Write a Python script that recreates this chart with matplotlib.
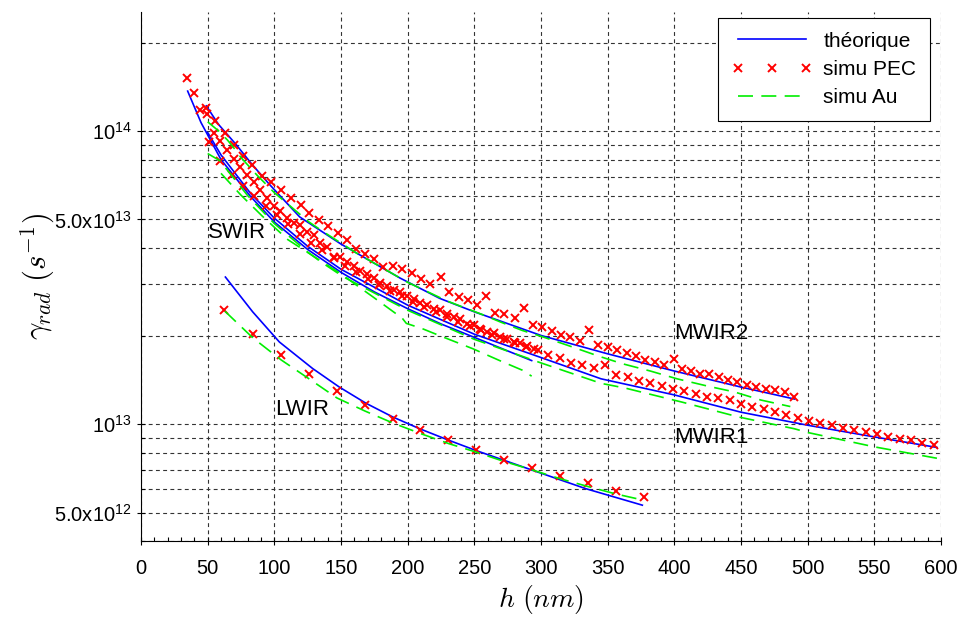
import matplotlib
matplotlib.use('Agg')
import matplotlib.pyplot as plt
import numpy as np
from matplotlib.ticker import FixedLocator, FixedFormatter, LogLocator, NullFormatter, MultipleLocator

# values are in units of 1e13 s^-1, h in nm
# ---- théorique ----
swir_th_h = [35, 45, 60, 82, 100, 125, 150, 175, 200, 225, 250, 275, 293]
swir_th = [13.7, 10.7, 8.0, 6.0, 4.9, 3.95, 3.3, 2.83, 2.48, 2.2, 1.98, 1.78, 1.65]
mwir1_th_h = [50, 60, 82, 100, 125, 150, 200, 250, 300, 345, 400, 450, 500, 550, 597]
mwir1_th = [9.9, 8.3, 6.15, 5.05, 4.05, 3.38, 2.55, 2.03, 1.69, 1.43, 1.26, 1.10, 0.993, 0.906, 0.834]
mwir2_th_h = [49, 58, 71, 83, 96, 119, 150, 194, 224, 250, 300, 350, 400, 450, 490]
mwir2_th = [12.2, 10.56, 9.04, 7.73, 6.61, 5.1, 4.12, 3.16, 2.69, 2.42, 2.01, 1.74, 1.52, 1.34, 1.22]
lwir_th_h = [63.3, 83.75, 103.75, 128.75, 148.75, 168.75, 188.75, 208.75, 231, 251, 293.75, 333.75, 376]
lwir_th = [3.18, 2.42, 1.91, 1.55, 1.34, 1.18, 1.06, 0.967, 0.882, 0.815, 0.697, 0.603, 0.530]

# ---- simu PEC ----
swir_pec_h = [34.5, 39.5, 44.5, 49.5, 54.5, 59.5, 64.5, 69.5, 74.5, 79.5, 84.5, 89.5, 94.5, 99.5,
              104.5, 109.5, 114.5, 119.5, 124.5, 129.5, 134.5, 139.5, 144.5, 149.5, 154.5, 159.5,
              164.5, 169.5, 174.5, 179.5, 184.5, 189.5, 194.5, 199.5, 204.5, 209.5, 214.5, 219.5,
              224.5, 229.5, 234.5, 239.5, 244.5, 249.5, 254.5, 259.5, 264.5, 269.5, 274.5, 279.5,
              284.5, 289.5, 294.5]
swir_pec = [15.2, 13.52, 11.78, 11.43, 9.89, 9.27, 8.61, 8.04, 7.57, 7.11, 6.70, 6.28, 5.92, 5.56,
            5.33, 5.07, 4.88, 4.78, 4.52, 4.42, 4.15, 4.03, 3.72, 3.72, 3.58, 3.47,
            3.33, 3.25, 3.16, 3.04, 2.96, 2.87, 2.83, 2.74, 2.67, 2.59, 2.55, 2.48,
            2.45, 2.37, 2.32, 2.28, 2.20, 2.18, 2.12, 2.07, 2.05, 1.99, 1.96, 1.91,
            1.89, 1.85, 1.81]
mwir1_pec_h = [51, 59.5, 68, 76.5, 85, 93.5, 102, 110.5, 119, 127.5, 136, 144.5, 153, 161.5,
               170, 178.5, 187, 195.5, 204, 212.5, 221, 229.5, 238, 246.5, 255, 263.5, 272,
               280.5, 289, 297.5, 305.5, 314, 322.5, 331, 339.5, 348, 356.5, 365, 373.5, 382,
               390.5, 399, 407.5, 416, 424.5, 433, 441.5, 450, 458.5, 467, 475.5, 484, 492.5,
               501, 509.5, 518, 526.5, 535, 543.5, 552, 560.5, 569, 577.5, 586, 594.5]
mwir1_pec = [9.18, 7.93, 7.08, 6.49, 6.00, 5.56, 5.19, 4.81, 4.47, 4.17, 3.92, 3.69, 3.48, 3.30,
             3.13, 2.99, 2.85, 2.73, 2.61, 2.51, 2.42, 2.32, 2.24, 2.16, 2.09, 2.02, 1.96,
             1.90, 1.84, 1.79, 1.73, 1.69, 1.62, 1.60, 1.56, 1.59, 1.47, 1.45, 1.41, 1.38,
             1.35, 1.32, 1.30, 1.27, 1.24, 1.23, 1.21, 1.17, 1.15, 1.13, 1.10, 1.08, 1.05,
             1.03, 1.01, 0.993, 0.975, 0.959, 0.942, 0.925, 0.906, 0.893, 0.881, 0.863, 0.847]
mwir2_pec_h = [48.7, 55.8, 62.8, 69.6, 76.4, 83.4, 90.5, 97.2, 104.8, 112.3, 120, 126.25, 133.25,
               140, 147.5, 154.25, 161.25, 168.25, 175, 181.25, 188.75, 195.75, 203.25, 210, 217,
               224.9, 231.2, 238.2, 245, 251.8, 258.8, 265.8, 272.6, 280.2, 286.9, 294, 301, 308,
               315, 322, 329.1, 336.2, 343, 350.5, 357.3, 364.3, 371.25, 378.25, 385.25, 392,
               399.5, 405.75, 412.5, 419.5, 426.25, 433.25, 440, 447, 454.5, 461.5, 468.75,
               475.75, 482.75, 489.5]
mwir2_pec = [12.02, 10.84, 9.89, 8.99, 8.24, 7.69, 7.05, 6.70, 6.28, 5.93, 5.58, 5.26, 4.99,
             4.74, 4.50, 4.25, 3.97, 3.80, 3.65, 3.44, 3.48, 3.40, 3.27, 3.14, 3.02,
             3.18, 2.83, 2.72, 2.65, 2.56, 2.74, 2.39, 2.37, 2.31, 2.50, 2.19, 2.14, 2.08,
             2.02, 1.99, 1.93, 2.09, 1.87, 1.84, 1.79, 1.75, 1.71, 1.66, 1.63, 1.60,
             1.67, 1.55, 1.52, 1.49, 1.48, 1.45, 1.42, 1.40, 1.36, 1.34, 1.32,
             1.31, 1.29, 1.24]
lwir_pec_h = [62.5, 83.75, 105, 125.75, 146.75, 167.75, 188.75, 209.5, 230.5, 251.25, 272.25,
              293.25, 314.25, 335.25, 356.25, 377]
lwir_pec = [2.46, 2.04, 1.72, 1.48, 1.30, 1.16, 1.045, 0.960, 0.882, 0.815, 0.758,
            0.710, 0.665, 0.631, 0.593, 0.564]

# ---- simu Au ----
swir_au_h = [60, 75, 91, 110, 134, 151, 160, 174, 196, 199, 211, 226, 249, 269, 286, 293]
swir_au = [7.18, 6.05, 5.13, 4.27, 3.63, 3.24, 3.02, 2.72, 2.30, 2.21, 2.12, 1.99, 1.81, 1.65, 1.53, 1.46]
mwir1_au_h = [50, 59, 80, 100, 125, 135, 152, 200, 250, 300, 345, 363, 406, 448, 490, 500, 550, 597]
mwir1_au = [8.39, 7.94, 6.03, 4.84, 3.87, 3.58, 3.18, 2.45, 1.95, 1.62, 1.38, 1.33, 1.19, 1.06,
            0.966, 0.938, 0.838, 0.766]
mwir2_au_h = [50, 59, 65, 71, 75, 87, 100, 126, 137, 162, 171, 200, 230, 259, 270, 286, 301, 320,
              343, 361, 382, 402, 425, 445, 465, 487]
mwir2_au = [10.76, 9.95, 9.31, 8.61, 8.13, 7.08, 6.17, 4.90, 4.53, 3.83, 3.63, 3.05, 2.63, 2.34,
            2.23, 2.09, 1.99, 1.86, 1.71, 1.61, 1.52, 1.43, 1.35, 1.29, 1.21, 1.15]
lwir_au_h = [63, 84, 105, 126, 147, 168, 189, 210, 231, 251, 272, 293, 314, 335, 356, 377]
lwir_au = [2.43, 1.97, 1.66, 1.43, 1.23, 1.11, 1.01, 0.929, 0.859, 0.805, 0.748, 0.700, 0.653,
           0.614, 0.579, 0.551]

band_labels = ['SWIR', 'LWIR', 'MWIR2', 'MWIR1']
band_label_pos = [(50.5, 4.52), (100.7, 1.12), (400, 2.04), (400, 0.90)]

plt.rcParams['font.family'] = ['Liberation Sans', 'DejaVu Sans']
plt.rcParams['mathtext.fontset'] = 'cm'

W, H = 957, 617
fig = plt.figure(figsize=(W / 100, H / 100), dpi=100)
ax = fig.add_axes([141 / W, 1 - 541 / H, 800 / W, 529 / H])

theory = [(swir_th_h, swir_th), (mwir1_th_h, mwir1_th), (mwir2_th_h, mwir2_th), (lwir_th_h, lwir_th)]
pec = [(swir_pec_h, swir_pec), (mwir1_pec_h, mwir1_pec), (mwir2_pec_h, mwir2_pec), (lwir_pec_h, lwir_pec)]
au = [(swir_au_h, swir_au), (mwir1_au_h, mwir1_au), (mwir2_au_h, mwir2_au), (lwir_au_h, lwir_au)]

for i, (h, g) in enumerate(theory):
    ax.plot(h, np.array(g) * 1e13, color='#0000ff', lw=1.2,
            label='théorique' if i == 0 else None, zorder=3)
for i, (h, g) in enumerate(pec):
    ax.plot(h, np.array(g) * 1e13, ls='none', marker='x', color='#ff0000', ms=6, mew=1.4,
            label='simu PEC' if i == 0 else None, zorder=4)
for i, (h, g) in enumerate(au):
    ax.plot(h, np.array(g) * 1e13, color='#00ee00', lw=1.2, ls=(0, (9, 5)),
            label='simu Au' if i == 0 else None, zorder=5)

for txt, (x, y) in zip(band_labels, band_label_pos):
    ax.text(x, y * 1e13, txt, fontsize=16, ha='left', va='center', zorder=6)

ax.set_yscale('log')
ax.set_xlim(0, 600)
ax.set_ylim(4e12, 2.55e14)

ax.xaxis.set_major_locator(MultipleLocator(50))
ax.xaxis.set_minor_locator(MultipleLocator(10))
ax.yaxis.set_major_locator(FixedLocator([5e12, 1e13, 5e13, 1e14]))
ax.yaxis.set_major_formatter(FixedFormatter([r'$\mathregular{5.0x10^{12}}$', r'$\mathregular{10^{13}}$',
                                             r'$\mathregular{5.0x10^{13}}$', r'$\mathregular{10^{14}}$']))
ax.yaxis.set_minor_locator(LogLocator(base=10, subs=np.arange(2, 10), numticks=50))
ax.yaxis.set_minor_formatter(NullFormatter())

gridkw = dict(color='0.2', lw=0.8, linestyle=(0, (3.5, 3)))
ax.grid(True, which='both', axis='y', **gridkw)
ax.grid(True, which='major', axis='x', **gridkw)
ax.set_axisbelow(True)

for s in ['top', 'right']:
    ax.spines[s].set_visible(False)
ax.tick_params(which='major', direction='inout', length=6, width=0.8, labelsize=14.5)
ax.tick_params(axis='x', which='major', pad=10)
ax.tick_params(which='minor', direction='in', length=3, width=0.8)

# axis labels, placed in figure pixels
fig.text(541 / W, 1 - 600 / H, r'$h\ (nm)$', fontsize=20, ha='center', va='center')
fig.text(38 / W, 1 - 276 / H, r'$\gamma_{rad}\ (s^{-1})$', fontsize=22, rotation=90,
         ha='center', va='center')

leg = ax.legend(loc='upper right', bbox_to_anchor=(930 / W, 1 - 18 / H), bbox_transform=fig.transFigure,
                borderaxespad=0, fancybox=False, edgecolor='k', framealpha=1, fontsize=15,
                numpoints=3, handlelength=3.85, handletextpad=0.55, borderpad=0.65, labelspacing=0.45)
leg.get_frame().set_linewidth(0.8)

fig.savefig('out.png', dpi=100)
